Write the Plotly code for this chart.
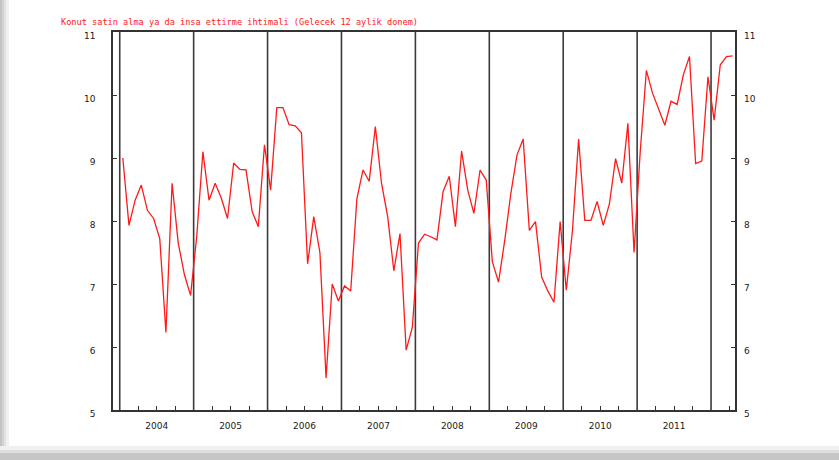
import plotly.graph_objects as go

# Monthly series, January 2004 - April 2012
start_year = 2004
values = [
    9.00, 7.93, 8.33, 8.57, 8.17, 8.04, 7.72, 6.23, 8.60, 7.65, 7.15, 6.82,   # 2004
    7.75, 9.10, 8.33, 8.60, 8.36, 8.04, 8.92, 8.82, 8.81, 8.15, 7.91, 9.21,   # 2005
    8.49, 9.80, 9.80, 9.53, 9.51, 9.40, 7.32, 8.07, 7.50, 5.51, 7.00, 6.73,   # 2006
    6.97, 6.89, 8.35, 8.81, 8.63, 9.50, 8.60, 8.07, 7.21, 7.80, 5.95, 6.31,   # 2007
    7.65, 7.79, 7.75, 7.70, 8.47, 8.71, 7.91, 9.11, 8.49, 8.12, 8.81, 8.65,   # 2008
    7.35, 7.03, 7.69, 8.44, 9.05, 9.30, 7.85, 7.99, 7.11, 6.89, 6.71, 7.99,   # 2009
    6.90, 7.85, 9.30, 8.01, 8.01, 8.31, 7.93, 8.27, 8.99, 8.60, 9.55, 7.50,   # 2010
    9.10, 10.39, 10.03, 9.76, 9.52, 9.90, 9.85, 10.32, 10.61, 8.91, 8.95, 10.29,  # 2011
    9.60, 10.48, 10.61, 10.62,                                                # 2012
]
years = list(range(2004, 2013))
year_labels = [str(y) for y in range(2004, 2012)]
y_ticks = [5, 6, 7, 8, 9, 10, 11]
title_text = "Konut satin alma ya da insa ettirme ihtimali (Gelecek 12 aylik donem)"

# each observation sits in the middle of its month
x_vals = [start_year + (i + 0.5) / 12 for i in range(len(values))]

# quarter ticks, with the year label at mid-year
q_vals, q_text = [], []
for y in range(2004, 2013):
    for q in (0.25, 0.5, 0.75):
        v = y + q
        if v > 2012.3:
            continue
        q_vals.append(v)
        q_text.append(str(y) if (q == 0.5 and str(y) in year_labels) else "")

fig = go.Figure()
fig.add_trace(go.Scatter(
    x=x_vals, y=values, mode="lines",
    line=dict(color="#ff1a1a", width=1.3),
    hoverinfo="skip", showlegend=False,
))
# same series on the right-hand axis (invisible) so that axis gets drawn
fig.add_trace(go.Scatter(
    x=x_vals, y=values, mode="lines", yaxis="y2",
    line=dict(color="rgba(0,0,0,0)", width=0),
    hoverinfo="skip", showlegend=False,
))

L, R, T, B = 113, 104, 32, 50
W, H = 839, 460
pw, ph = W - L - R, H - T - B

shapes = []
for yr in years:
    shapes.append(dict(type="line", xref="x", yref="paper", x0=yr, x1=yr, y0=0, y1=1,
                       line=dict(color="#3a3a3a", width=1.6), layer="below"))


def px_x(p):
    return (p - L) / pw


def px_y(p):
    return (H - B - p) / ph


# soft frame along the left and bottom edges of the page
for x0, x1, c in [(0, 2, "#c4c4c4"), (2, 4, "#d2d2d2"), (4, 6, "#e2e2e2"), (6, 9, "#f1f1f1")]:
    shapes.append(dict(type="rect", xref="paper", yref="paper",
                       x0=px_x(x0), x1=px_x(x1), y0=px_y(H), y1=px_y(0),
                       fillcolor=c, line=dict(width=0), layer="below"))
for y0, y1, c in [(446, 450, "#f0f0f0"), (450, 453, "#dedede"), (453, 460, "#c6c6c6")]:
    shapes.append(dict(type="rect", xref="paper", yref="paper",
                       x0=px_x(0), x1=px_x(W), y0=px_y(y1), y1=px_y(y0),
                       fillcolor=c, line=dict(width=0), layer="below"))

tick_font = dict(family="DejaVu Sans", size=9, color="#1a1a1a")

fig.update_layout(
    width=W, height=H,
    margin=dict(l=L, r=R, t=T, b=B, pad=0),
    paper_bgcolor="white", plot_bgcolor="white",
    showlegend=False,
    shapes=shapes,
    xaxis=dict(
        range=[2003.909, 2012.324], tickmode="array", tickvals=q_vals, ticktext=q_text,
        ticks="inside", ticklen=4, tickwidth=1, tickcolor="#333333",
        showgrid=False, zeroline=False,
        showline=True, linecolor="#333333", linewidth=1.5, mirror=True,
        tickfont=tick_font, ticklabelstandoff=6,
    ),
    yaxis=dict(
        range=[5, 11], tickmode="array", tickvals=y_ticks,
        ticks="inside", ticklen=4, tickwidth=1, tickcolor="#333333",
        showgrid=False, zeroline=False,
        showline=True, linecolor="#333333", linewidth=1.5, mirror=True,
        tickfont=tick_font, ticklabelstandoff=14, ticklabelshift=4,
    ),
    yaxis2=dict(
        range=[5, 11], tickmode="array", tickvals=y_ticks, overlaying="y", side="right",
        ticks="inside", ticklen=4, tickwidth=1, tickcolor="#333333",
        showgrid=False, zeroline=False, showline=False,
        tickfont=tick_font, ticklabelstandoff=8, ticklabelshift=4,
    ),
    annotations=[dict(
        text=title_text, xref="paper", yref="paper",
        x=px_x(59), y=px_y(22), xanchor="left", yanchor="middle",
        showarrow=False, font=dict(family="DejaVu Sans Mono", size=8.6, color="#ff2020"),
    )],
)

fig.write_html("out.html")
